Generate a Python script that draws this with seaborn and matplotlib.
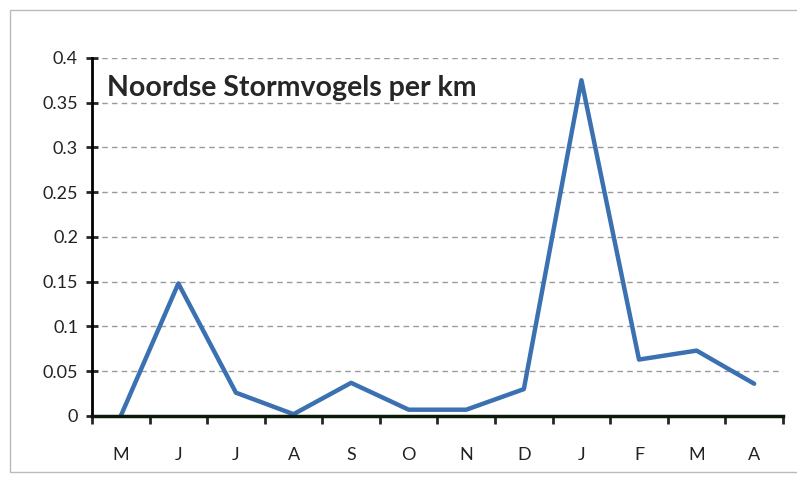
import seaborn as sns
import matplotlib.pyplot as plt
import numpy as np
import pandas as pd
from matplotlib.patches import Rectangle

# maanden mei t/m april
maanden = ['M', 'J', 'J', 'A', 'S', 'O', 'N', 'D', 'J', 'F', 'M', 'A']
per_km = [0.0, 0.148, 0.026, 0.002, 0.037, 0.007, 0.007, 0.030, 0.375, 0.063, 0.073, 0.036]
y_ticks = [0, 0.05, 0.1, 0.15, 0.2, 0.25, 0.3, 0.35, 0.4]
y_labels = ['0', '0.05', '0.1', '0.15', '0.2', '0.25', '0.3', '0.35', '0.4']

df = pd.DataFrame({'pos': np.arange(len(maanden)), 'waarde': per_km})

sns.set_style('white')
plt.rcParams['font.family'] = ['Lato', 'DejaVu Sans']

fig = plt.figure(figsize=(7.97, 4.82), dpi=100)
ax = fig.add_axes([0.1154, 0.137, 0.867, 0.743])

sns.lineplot(data=df, x='pos', y='waarde', ax=ax, color='#3b71b1', linewidth=3.2)

ax.set_xlim(-0.5, len(maanden) - 0.5)
ax.set_ylim(0, 0.4)

# raster
for t in y_ticks[1:]:
    ax.axhline(t, color='#9a9a9a', linestyle=(0, (4, 3)), linewidth=1.0, zorder=0)

ax.set_yticks(y_ticks)
ax.set_yticklabels(y_labels, fontsize=13, color='#222222')
ax.tick_params(axis='y', direction='inout', length=8, width=2, pad=6, left=True)

# streepjes tussen de maanden, labels in het midden
ax.set_xticks(np.arange(-0.5, len(maanden), 1.0))
ax.set_xticklabels([])
ax.set_xticks(np.arange(len(maanden)), minor=True)
ax.set_xticklabels(maanden, minor=True, fontsize=13, color='#222222')
ax.tick_params(axis='x', which='major', direction='out', length=6, width=2, bottom=True)
ax.tick_params(axis='x', which='minor', length=0, pad=22)

for side in ['top', 'right']:
    ax.spines[side].set_visible(False)
ax.spines['left'].set_linewidth(2)
ax.spines['bottom'].set_linewidth(2.5)
ax.spines['left'].set_color('black')
ax.spines['bottom'].set_color('#0a1a0a')

ax.set_xlabel('')
ax.set_ylabel('')

ax.text(0.022, 0.915, 'Noordse Stormvogels per km', transform=ax.transAxes,
        fontsize=20.5, fontweight='bold', va='center', ha='left')

# grijze rand rond de grafiek
fig.patches.append(Rectangle((0.012, 0.02), 0.99, 0.96, transform=fig.transFigure,
                             fill=False, edgecolor='#bbbbbb', linewidth=1.0))

fig.savefig('out.png', dpi=100)
